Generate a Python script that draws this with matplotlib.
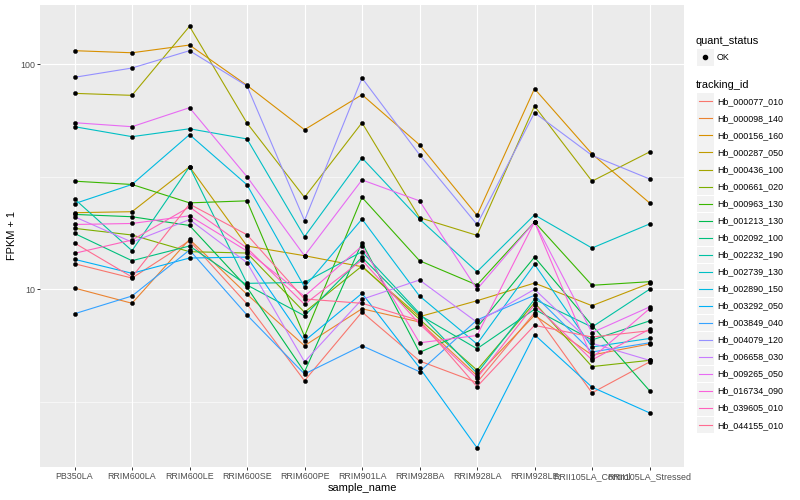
import matplotlib
matplotlib.use('Agg')
import matplotlib.pyplot as plt
from matplotlib.patches import Rectangle
from matplotlib.lines import Line2D
from matplotlib.ticker import FixedLocator, NullFormatter

plt.rcParams['font.family'] = ['Liberation Sans', 'DejaVu Sans']

samples = ['PB350LA', 'RRIM600LA', 'RRIM600LE', 'RRIM600SE', 'RRIM600PE', 'RRIM901LA',
           'RRIM928BA', 'RRIM928LA', 'RRIM928LE', 'RRII105LA_Control', 'RRII105LA_Stressed']

tracking_ids = ['Hb_000077_010', 'Hb_000098_140', 'Hb_000156_160', 'Hb_000287_050',
                'Hb_000436_100', 'Hb_000661_020', 'Hb_000963_130', 'Hb_001213_130',
                'Hb_002092_100', 'Hb_002232_190', 'Hb_002739_130', 'Hb_002890_150',
                'Hb_003292_050', 'Hb_003849_040', 'Hb_004079_120', 'Hb_006658_030',
                'Hb_009265_050', 'Hb_016734_090', 'Hb_039605_010', 'Hb_044155_010']

colors = ['#F8766D', '#EA8331', '#D89000', '#C09B00', '#A3A500', '#7CAE00', '#39B600',
          '#00BB4E', '#00BF7D', '#00C1A3', '#00BFC4', '#00BAE0', '#00B0F6', '#35A2FF',
          '#9590FF', '#C77CFF', '#E76BF3', '#FA62DB', '#FF62BC', '#FF6C91']

# FPKM + 1 per sample (order of `samples`)
hb_000077_010 = [12.99, 11.22, 16.43, 8.61, 3.93, 7.93, 4.81, 3.86, 7.87, 3.47, 4.76]
hb_000098_140 = [10.13, 8.67, 16.67, 9.50, 5.62, 8.20, 7.16, 4.14, 7.67, 5.11, 5.72]
hb_000156_160 = [114.6, 112.2, 121.4, 80.4, 51.1, 73.1, 43.8, 21.3, 77.7, 39.9, 24.2]
hb_000287_050 = [21.88, 22.11, 35.0, 15.57, 14.10, 12.60, 7.56, 8.90, 10.66, 8.46, 10.63]
hb_000436_100 = [74.1, 72.6, 147.0, 54.7, 25.6, 54.9, 20.8, 17.36, 65.1, 30.2, 40.7]
hb_000661_020 = [18.65, 17.42, 14.69, 14.49, 7.91, 12.69, 7.36, 4.38, 8.72, 4.54, 4.84]
hb_000963_130 = [30.2, 29.2, 24.2, 24.7, 6.19, 25.6, 13.4, 10.45, 19.9, 10.42, 10.81]
hb_001213_130 = [21.5, 21.0, 19.2, 10.2, 4.30, 16.1, 5.25, 6.78, 13.9, 6.92, 3.55]
hb_002092_100 = [17.7, 13.4, 15.57, 10.45, 7.63, 13.87, 7.69, 5.45, 8.15, 5.96, 7.24]
hb_002232_190 = [25.2, 14.84, 35.0, 10.63, 10.74, 14.69, 7.82, 4.24, 9.03, 6.80, 10.0]
hb_002739_130 = [52.7, 47.6, 51.6, 46.5, 17.12, 38.3, 20.5, 11.97, 21.4, 15.25, 19.5]
hb_002890_150 = [24.0, 29.2, 48.6, 29.1, 10.24, 20.5, 9.34, 5.72, 12.91, 5.55, 6.05]
hb_003292_050 = [13.59, 11.78, 13.77, 13.9, 5.90, 9.60, 4.49, 1.98, 6.29, 3.68, 2.83]
hb_003849_040 = [7.79, 9.34, 14.94, 7.69, 4.21, 5.62, 4.31, 7.31, 9.41, 5.27, 5.79]
hb_004079_120 = [87.3, 96.0, 114.6, 79.9, 20.2, 86.7, 39.6, 19.4, 60.8, 39.3, 30.9]
hb_006658_030 = [21.0, 16.2, 20.4, 13.13, 4.77, 9.03, 11.0, 7.14, 10.0, 5.76, 4.84]
hb_009265_050 = [54.9, 52.7, 64.0, 31.6, 14.10, 30.6, 24.7, 10.0, 19.9, 6.42, 8.35]
hb_016734_090 = [19.4, 19.6, 21.2, 14.79, 9.31, 15.57, 5.79, 6.24, 19.9, 4.96, 8.20]
hb_039605_010 = [14.45, 16.55, 23.2, 15.25, 8.58, 13.49, 7.02, 4.04, 8.55, 4.86, 6.65]
hb_044155_010 = [16.05, 11.34, 23.9, 17.47, 9.06, 8.67, 7.27, 3.70, 6.92, 6.14, 6.55]

series = [hb_000077_010, hb_000098_140, hb_000156_160, hb_000287_050, hb_000436_100,
          hb_000661_020, hb_000963_130, hb_001213_130, hb_002092_100, hb_002232_190,
          hb_002739_130, hb_002890_150, hb_003292_050, hb_003849_040, hb_004079_120,
          hb_006658_030, hb_009265_050, hb_016734_090, hb_039605_010, hb_044155_010]

W, H = 800, 500
fig = plt.figure(figsize=(8, 5), dpi=100)
fig.patch.set_facecolor('white')

px_l, px_r, px_t, px_b = 40, 684, 5, 467
ax = fig.add_axes([px_l / W, 1 - px_b / H, (px_r - px_l) / W, (px_b - px_t) / H])
ax.set_facecolor('#EBEBEB')
for s in ax.spines.values():
    s.set_visible(False)

xs = list(range(len(samples)))
for vals, col in zip(series, colors):
    ax.plot(xs, vals, color=col, lw=0.8, zorder=2, solid_joinstyle='round')
for vals in series:
    ax.plot(xs, vals, linestyle='none', marker='o', ms=3.0, mfc='black', mec='black',
            mew=0.3, zorder=3)

ax.set_yscale('log')
ax.set_ylim(1.627, 182.8)
ax.set_xlim(-0.6, len(samples) - 1 + 0.6)
ax.yaxis.set_major_locator(FixedLocator([10, 100]))
ax.set_yticklabels(['10', '100'])
ax.yaxis.set_minor_locator(FixedLocator([10 ** 0.5, 10 ** 1.5]))
ax.yaxis.set_minor_formatter(NullFormatter())
ax.set_xticks(xs)
ax.set_xticklabels(samples)

ax.grid(which='major', color='white', lw=0.8, zorder=1)
ax.grid(which='minor', axis='y', color='white', lw=0.4, zorder=1)
ax.set_axisbelow(True)
ax.tick_params(which='major', length=2.0, width=0.7, color='#333333',
               labelsize=6.4, labelcolor='#4D4D4D', pad=1.6)
ax.tick_params(which='minor', length=0)

fig.text(362 / W, 1 - 488 / H, 'sample_name', fontsize=7.9, ha='center', va='center')
fig.text(12 / W, 1 - 236 / H, 'FPKM + 1', fontsize=7.9, ha='center', va='center',
         rotation=90)

def fx(x):
    return x / W

def fy(y):
    return 1 - y / H

# legend: quant_status
fig.text(fx(696), fy(41), 'quant_status', fontsize=7.9, ha='left', va='center')
fig.add_artist(Rectangle((fx(697), fy(65.5)), 16.5 / W, 16.5 / H, transform=fig.transFigure,
                         facecolor='#F2F2F2', edgecolor='none'))
fig.add_artist(Line2D([fx(705.2)], [fy(57.2)], marker='o', ms=3.0, color='black',
                      transform=fig.transFigure))
fig.text(fx(717), fy(57.2), 'OK', fontsize=6.4, ha='left', va='center')

# legend: tracking_id
fig.text(fx(696), fy(85), 'tracking_id', fontsize=7.9, ha='left', va='center')
y0, dy = 101.3, 17.05
for i, (tid, col) in enumerate(zip(tracking_ids, colors)):
    yc = y0 + i * dy
    fig.add_artist(Rectangle((fx(697), fy(yc + 8.2)), 16.5 / W, 16.3 / H,
                             transform=fig.transFigure, facecolor='#F2F2F2',
                             edgecolor='none'))
    fig.add_artist(Line2D([fx(698.5), fx(712)], [fy(yc), fy(yc)], color=col, lw=0.8,
                          transform=fig.transFigure))
    fig.text(fx(717), fy(yc), tid, fontsize=6.4, ha='left', va='center')

fig.savefig('out.png', dpi=100)
